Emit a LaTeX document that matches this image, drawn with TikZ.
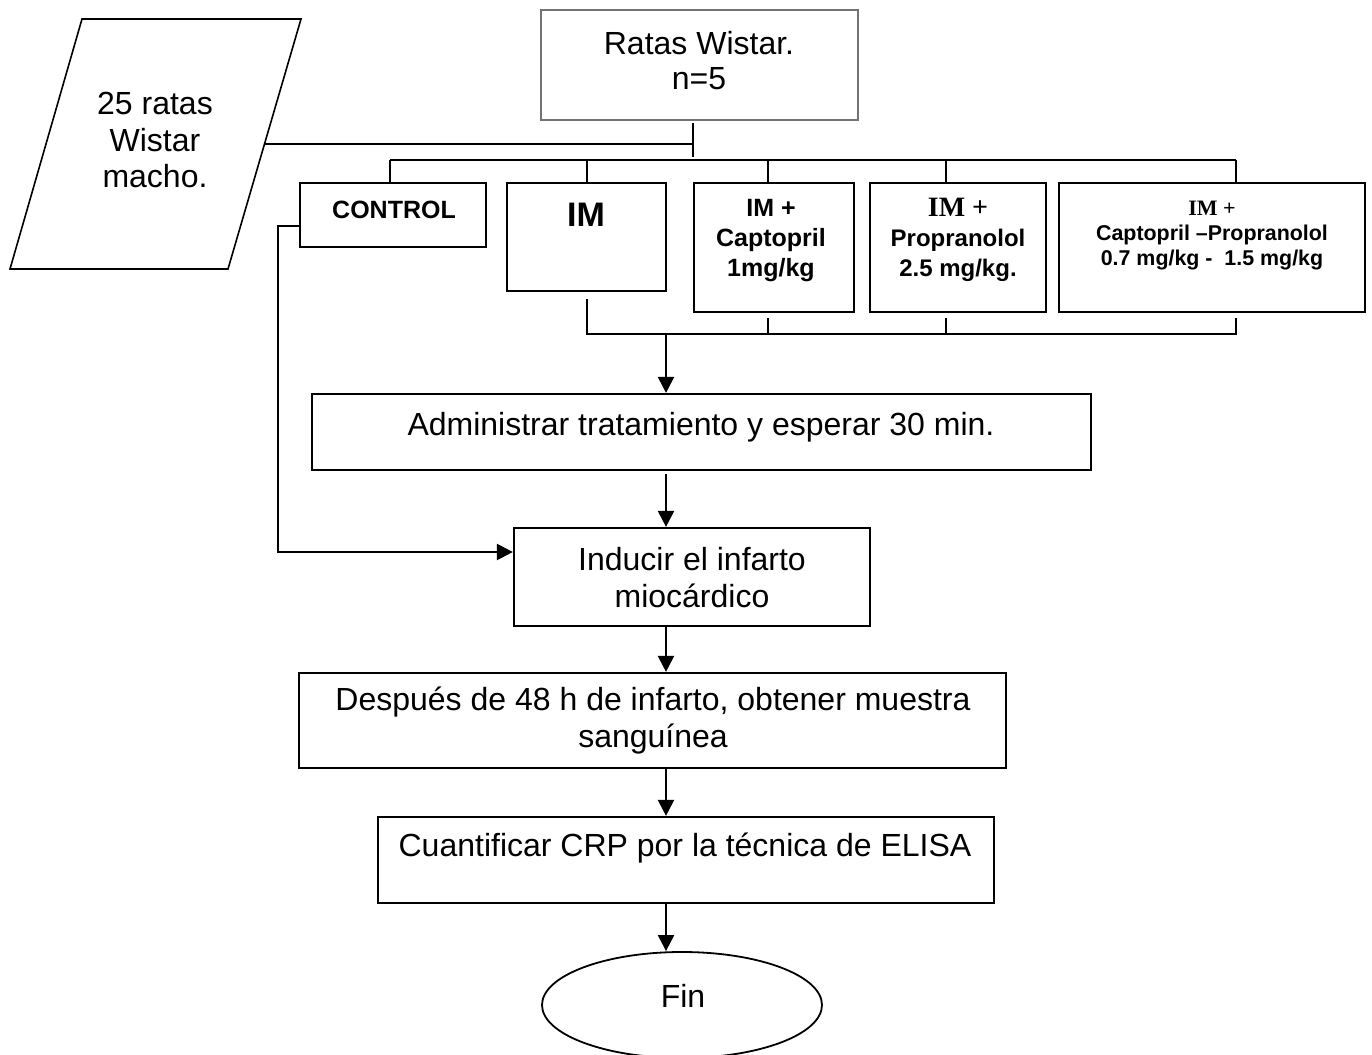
\documentclass[tikz,border=0pt]{standalone}
\usepackage{fontspec}
\setmainfont{Liberation Sans}
\newfontfamily\timesf{Liberation Serif}
\usetikzlibrary{arrows.meta,shapes.geometric}
\begin{document}
\begin{tikzpicture}[x=0.5pt,y=-0.5pt,
  box/.style={draw, line width=1.1pt, inner sep=0pt},
  wire/.style={line width=1.1pt},
  arr/.style={line width=1.1pt, -{Triangle[length=8pt,width=8pt]}},
  big/.style={inner sep=0pt, align=center, font=\fontsize{16}{18.5}\selectfont},
  lbl/.style={inner sep=0pt, align=center, font=\bfseries\fontsize{12.5}{15}\selectfont},
  small/.style={inner sep=0pt, align=center, font=\bfseries\fontsize{10.7}{12.5}\selectfont},
]
\useasboundingbox (0,0) rectangle (1372,1055);

% input parallelogram
\draw[line width=0.8pt] (82,19) -- (301,19) -- (228,269) -- (10,269) -- cycle;
\node[big, font=\fontsize{16}{18.25}\selectfont] (rats) at (155,140) {25 ratas\\Wistar\\macho.};
\coordinate (pr) at (265,144);

% group box
\node[draw=black!55, line width=0.75pt, minimum width=158.5pt, minimum height=55pt] (ratas) at (699.5,65) {};
\node[big, font=\fontsize{16}{17.5}\selectfont] (ratastxt) at (699,61) {Ratas Wistar.\\n=5};
\coordinate (tk) at (693,144);
\coordinate (tkt) at (693,123);
\coordinate (tkb) at (693,157);
\draw[wire] (pr) -- (tk);
\draw[wire] (tkt) -- (tkb);

% treatment groups
\node[box, minimum width=93pt, minimum height=32pt] (control) at (393,215) {};
\node[lbl] (controltxt) at (394,210) {CONTROL};
\node[box, minimum width=79.5pt, minimum height=54pt] (im) at (586.5,237) {};
\node[inner sep=0pt, font=\bfseries\fontsize{17}{20}\selectfont] (imtxt) at (586,215) {IM};
\node[box, minimum width=80pt, minimum height=64.5pt] (cap) at (774,247.5) {};
\node[lbl] (captxt) at (771,241) {IM +\\Captopril\\1mg/kg};
\node[box, minimum width=88pt, minimum height=64.5pt] (pro) at (958,247.5) {};
\node[lbl, font=\bfseries\fontsize{12}{15}\selectfont] (protxt) at (958,240)
  {{\timesf\fontsize{14}{15}\selectfont\textbf{IM} +}\\Propranolol\\2.5 mg/kg.};
\node[small] (cptxt) at (1212,236)
  {{\timesf\fontsize{11}{12.5}\selectfont\textbf{IM} +}\\Captopril --Propranolol\\0.7 mg/kg -\ \ 1.5 mg/kg};
\node[box, minimum width=153pt, minimum height=64.5pt] (cp) at (1212,247.5) {};

% upper distribution bus
\coordinate (b1) at (390,160);
\coordinate (b2) at (587,160);
\coordinate (b3) at (768,160);
\coordinate (b4) at (946,160);
\coordinate (b5) at (1236,160);
\draw[wire] (b1) -- (b5);
\draw[wire] (b1) -- (b1 |- control.north);
\draw[wire] (b2) -- (b2 |- im.north);
\draw[wire] (b3) -- (b3 |- cap.north);
\draw[wire] (b4) -- (b4 |- pro.north);
\draw[wire] (b5) -- (b5 |- cp.north);

% lower collecting bus
\coordinate (l2) at (587,334);
\coordinate (l3) at (768,334);
\coordinate (l4) at (946,334);
\coordinate (l5) at (1236,334);
\coordinate (la) at (666,334);
\draw[wire] ([yshift=-3.5pt]im.south -| l2) -- (l2) -- (l5) -- ([yshift=-2.5pt]cp.south -| l5);
\draw[wire] ([yshift=-2.5pt]cap.south -| l3) -- (l3);
\draw[wire] ([yshift=-2.5pt]pro.south -| l4) -- (l4);

% main sequence
\node[box, minimum width=389.5pt, minimum height=38pt] (adm) at (701.5,432) {};
\node[big] (admtxt) at (701,427) {Administrar tratamiento y esperar 30 min.};
\node[box, minimum width=178pt, minimum height=49pt] (ind) at (692,577) {};
\node[big] (indtxt) at (692,578) {Inducir el infarto\\miocárdico};
\node[box, minimum width=353.5pt, minimum height=47.5pt] (des) at (652.5,720.5) {};
\node[big] (destxt) at (653,721) {Después de 48 h de infarto, obtener muestra\\sanguínea};
\node[box, minimum width=308pt, minimum height=43pt] (cua) at (686,860) {};
\node[big] (cuatxt) at (685,848) {Cuantificar CRP por la técnica de ELISA};
\node[draw, ellipse, line width=0.9pt, minimum width=140pt, minimum height=53pt, inner sep=0pt] (fin) at (682,1005) {};
\node[big] (fintxt) at (683,996) {Fin};

\coordinate (ax) at (666,0);
\draw[arr] (la) -- (adm.north -| ax);
\draw[arr] ([yshift=-1.5pt]adm.south -| ax) -- (ind.north -| ax);
\draw[arr] (ind.south -| ax) -- (des.north -| ax);
\draw[arr] (des.south -| ax) -- (cua.north -| ax);
\draw[arr] (cua.south -| ax) -- (fin.north -| ax);

% control group skips the treatment step
\coordinate (cl) at (278,552);
\draw[arr] ([yshift=-5.5pt]control.west) -| (cl) -- (cl -| ind.west);
\end{tikzpicture}
\end{document}
